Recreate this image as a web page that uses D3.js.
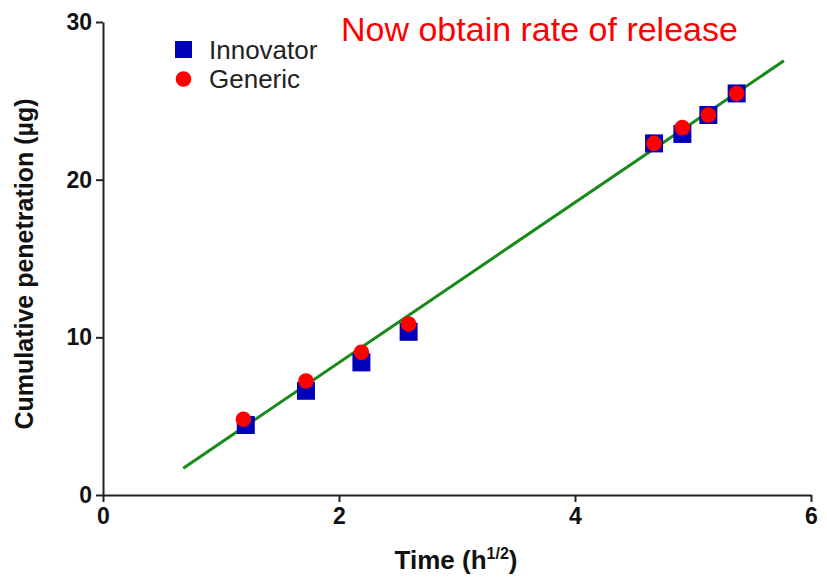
<!doctype html>
<html lang="en-US">
<head>
  <meta charset="utf-8">
  <title>Cumulative penetration</title>
  <script src="https://d3js.org/d3.v7.min.js"></script>
  <style>
    body { margin: 0; background: #fff; }
    svg text { font-family: "Liberation Sans", Arial, sans-serif; }
    .axis path, .axis line { stroke: #222; stroke-width: 2px; }
    .axis text { font-size: 23px; font-weight: bold; fill: #111; }
  </style>
</head>
<body>
<svg width="827" height="583"></svg>
<script>
// data
var timeInnovator = [1.21, 1.72, 2.19, 2.59, 4.67, 4.91, 5.13, 5.37];
var innovator     = [4.44, 6.61, 8.41, 10.35, 22.3, 22.9, 24.1, 25.47];
var timeGeneric   = [1.19, 1.72, 2.19, 2.59, 4.67, 4.91, 5.13, 5.37];
var generic       = [4.80, 7.23, 9.05, 10.84, 22.3, 23.3, 24.1, 25.47];
var fitX = [0.68, 5.77];
var fitY = [1.70, 27.54];
var xTicks = [0, 2, 4, 6];
var yTicks = [0, 10, 20, 30];

var svg = d3.select("svg");

var x = d3.scaleLinear().domain([0, 6]).range([103, 811]);
var y = d3.scaleLinear().domain([0, 30]).range([495, 22]);

// axes
svg.append("g")
  .attr("class", "axis")
  .attr("transform", "translate(0,495)")
  .call(d3.axisBottom(x).tickValues(xTicks).tickFormat(d3.format("d")).tickSize(7).tickPadding(6).tickSizeOuter(0));

svg.append("g")
  .attr("class", "axis")
  .attr("transform", "translate(103,0)")
  .call(d3.axisLeft(y).tickValues(yTicks).tickFormat(d3.format("d")).tickSize(7).tickPadding(4).tickSizeOuter(0));

// fitted line
var fit = fitX.map(function(d, i) { return [d, fitY[i]]; });
svg.append("path")
  .datum(fit)
  .attr("fill", "none")
  .attr("stroke", "#178a17")
  .attr("stroke-width", 3)
  .attr("d", d3.line().x(function(d) { return x(d[0]); }).y(function(d) { return y(d[1]); }));

// innovator squares
var sq = 18;
svg.selectAll(".inno")
  .data(innovator)
  .enter().append("rect")
  .attr("class", "inno")
  .attr("x", function(d, i) { return x(timeInnovator[i]) - sq / 2; })
  .attr("y", function(d) { return y(d) - sq / 2; })
  .attr("width", sq)
  .attr("height", sq)
  .attr("fill", "#0000bb");

// generic circles
svg.selectAll(".gen")
  .data(generic)
  .enter().append("circle")
  .attr("class", "gen")
  .attr("cx", function(d, i) { return x(timeGeneric[i]); })
  .attr("cy", function(d) { return y(d); })
  .attr("r", 7.8)
  .attr("fill", "#ff0000");

// legend
svg.append("rect").attr("x", 175).attr("y", 41).attr("width", 17).attr("height", 17).attr("fill", "#0000bb");
svg.append("circle").attr("cx", 183.5).attr("cy", 79).attr("r", 7.8).attr("fill", "#ff0000");
svg.append("text").attr("x", 209).attr("y", 59).attr("font-size", 26).attr("fill", "#222").text("Innovator");
svg.append("text").attr("x", 209).attr("y", 88).attr("font-size", 26).attr("fill", "#222").text("Generic");

// note
svg.append("text").attr("x", 341).attr("y", 41).attr("font-size", 34).attr("fill", "#ff0000")
  .text("Now obtain rate of release");

// axis titles
var xt = svg.append("text")
  .attr("x", 456).attr("y", 569)
  .attr("text-anchor", "middle")
  .attr("font-size", 26).attr("font-weight", "bold").attr("fill", "#111");
xt.append("tspan").text("Time (h");
xt.append("tspan").attr("font-size", 16).attr("dy", -10).text("1/2");
xt.append("tspan").attr("dy", 10).text(")");

svg.append("text")
  .attr("transform", "translate(33,264) rotate(-90)")
  .attr("text-anchor", "middle")
  .attr("font-size", 25).attr("font-weight", "bold").attr("fill", "#111")
  .text("Cumulative penetration (\u00b5g)");
</script>
</body>
</html>
